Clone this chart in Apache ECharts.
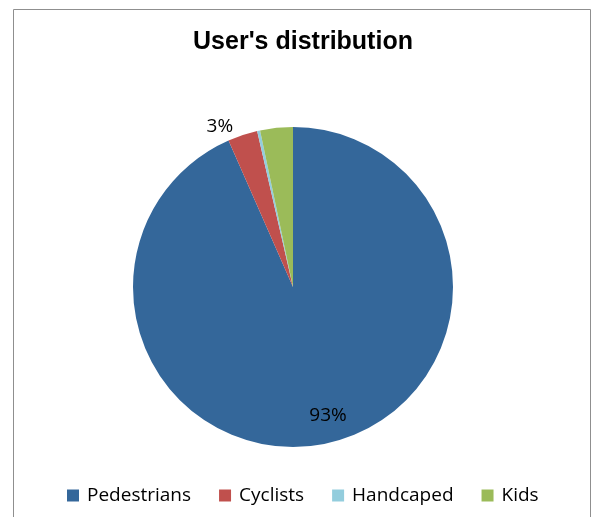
<!DOCTYPE html>
<html>
<head>
<meta charset="utf-8">
<script src="https://cdn.jsdelivr.net/npm/echarts@6/dist/echarts.min.js"></script>
<style>
  html, body { margin: 0; padding: 0; background: #fff; }
  #chart { width: 592px; height: 517px; }
</style>
</head>
<body>
<div id="chart"></div>
<script>
// Share of each user group (percent)
const categories = ['Pedestrians', 'Cyclists', 'Handcaped', 'Kids'];
const shares = [93.4, 3.0, 0.3, 3.3];
const colors = ['#34679A', '#C0504D', '#93CDDD', '#9BBB59'];
// Only these groups carry a percentage label
const labelled = { Pedestrians: { offset: [18, 47] },
                   Cyclists: { offset: [-47, -82] } };

const chart = echarts.init(document.getElementById('chart'), null, { renderer: 'canvas' });

const data = categories.map((name, i) => {
  const item = { name, value: shares[i], itemStyle: { color: colors[i] } };
  item.label = labelled[name]
    ? { show: true, position: 'inside', offset: labelled[name].offset }
    : { show: false };
  return item;
});

chart.setOption({
  animation: false,
  backgroundColor: '#fff',
  graphic: [{
    type: 'rect',
    shape: { x: 13.5, y: 9.5, width: 577, height: 520 },
    style: { fill: 'none', stroke: '#8f8f8f', lineWidth: 1 },
    silent: true
  }],
  title: {
    text: "User's distribution",
    left: 298, top: 25, textAlign: 'center',
    textStyle: { fontFamily: 'Liberation Sans', fontWeight: 'bold', fontSize: 25, color: '#000' }
  },
  legend: {
    bottom: 7, left: 62,
    icon: 'rect', itemWidth: 12, itemHeight: 12, itemGap: 28,
    textStyle: { fontFamily: 'Open Sans', fontSize: 19, color: '#000', padding: [0, 0, 0, 3] },
    data: categories
  },
  series: [{
    type: 'pie',
    center: [293, 287],
    radius: 160,
    startAngle: 90,
    clockwise: true,
    avoidLabelOverlap: false,
    label: {
      formatter: p => Math.round(p.value) + '%',
      fontFamily: 'Open Sans', fontSize: 19, color: '#000'
    },
    labelLine: { show: false },
    emphasis: { disabled: true },
    data
  }]
});
</script>
</body>
</html>
